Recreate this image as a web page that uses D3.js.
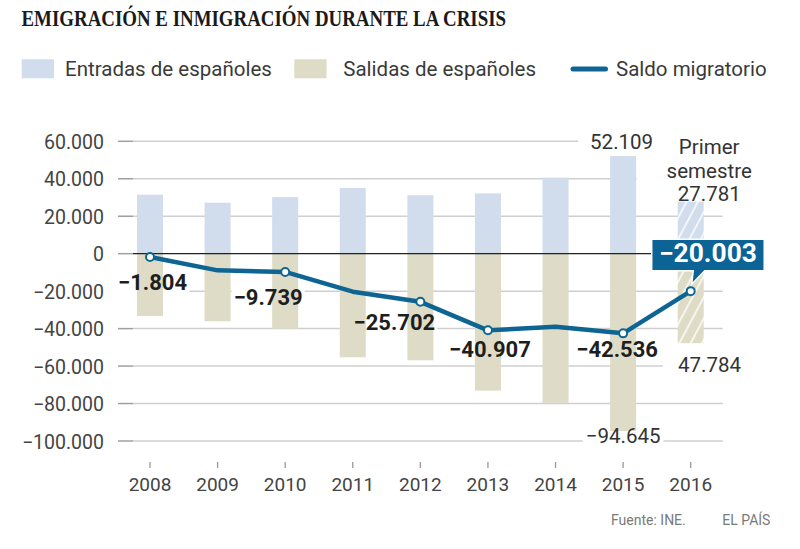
<!DOCTYPE html>
<html><head><meta charset="utf-8">
<script src="https://cdn.jsdelivr.net/npm/d3@7"></script>
<style>body{margin:0;background:#fff} svg{display:block}</style>
</head><body><svg id="c" width="800" height="549"></svg>
<script>
// ---- data ----
const title = "EMIGRACIÓN E INMIGRACIÓN DURANTE LA CRISIS";
const years = ["2008","2009","2010","2011","2012","2013","2014","2015","2016"];
const entradas = [31500, 27200, 30200, 35100, 31200, 32200, 40600, 52109, 27781];
const salidas  = [-33300, -36100, -40000, -55300, -56900, -73100, -79600, -94645, -47784];
const saldo    = [-1804, -8900, -9739, -20300, -25702, -40907, -39000, -42536, -20003];
const yTicks = [60000, 40000, 20000, 0, -20000, -40000, -60000, -80000, -100000];
const seriesNames = ["Entradas de españoles", "Salidas de españoles", "Saldo migratorio"];
const labeledYears = ["2008","2010","2012","2013","2015","2016"];
const partialYear = "2016";
const partialNote = ["Primer", "semestre"];
const source = "Fuente: INE.";
const brand = "EL PAÍS";

// ---- styles ----
const C_ENT = "#d1dcec", C_SAL = "#dedcc6", C_LINE = "#0e6594", C_BOX = "#0b6396";
const F = "Roboto, 'Liberation Sans', sans-serif";

const loc = d3.formatLocale({decimal: ",", thousands: ".", grouping: [3], currency: ["", "€"], minus: "\u2212"});
const fmt = loc.format(",d");

const svg = d3.select("#c");

// scales
const x = d3.scaleBand().domain(years).range([116.2, 724.5]).paddingInner(0.615).paddingOuter(0.3075);
const xc = d => x(d) + x.bandwidth() / 2;
const y = d3.scaleLinear().domain([-100000, 60000]).range([441, 141.3]);

// pattern defs
const defs = svg.append("defs");
function hatch(id, color) {
  const p = defs.append("pattern").attr("id", id).attr("patternUnits", "userSpaceOnUse")
    .attr("width", 10).attr("height", 10).attr("patternTransform", "rotate(28)");
  p.append("rect").attr("width", 10).attr("height", 10).attr("fill", color);
  p.append("rect").attr("x", 0).attr("width", 1.8).attr("height", 10).attr("fill", "#fff").attr("opacity", 0.8);
}
hatch("hEnt", C_ENT); hatch("hSal", C_SAL);

// title
svg.append("text").attr("x", 21.5).attr("y", 25.5)
  .attr("font-family", "'Liberation Serif', 'DejaVu Serif', serif").attr("font-weight", "bold")
  .attr("font-size", 22.5).attr("fill", "#1a1a1a")
  .attr("textLength", 484.5).attr("lengthAdjust", "spacingAndGlyphs").text(title);

// legend
const lg = svg.append("g").attr("font-family", F).attr("font-size", 20.5).attr("fill", "#3a3a3a");
lg.append("rect").attr("x", 21.7).attr("y", 59.3).attr("width", 32.3).attr("height", 19).attr("fill", C_ENT);
lg.append("text").attr("x", 65).attr("y", 75.5).text(seriesNames[0]);
lg.append("rect").attr("x", 294.3).attr("y", 59.3).attr("width", 32.3).attr("height", 19).attr("fill", C_SAL);
lg.append("text").attr("x", 343.3).attr("y", 75.5).text(seriesNames[1]);
lg.append("line").attr("x1", 573).attr("x2", 605.5).attr("y1", 69).attr("y2", 69)
  .attr("stroke", C_LINE).attr("stroke-width", 5).attr("stroke-linecap", "round");
lg.append("text").attr("x", 616).attr("y", 75.5).text(seriesNames[2]);

// grid
const gridG = svg.append("g");
yTicks.forEach(t => {
  if (t !== 0) {
    gridG.append("line").attr("x1", 133).attr("x2", 722.7).attr("y1", y(t)).attr("y2", y(t))
      .attr("stroke", "#cfcfcf").attr("stroke-width", 1.5);
  }
  gridG.append("line").attr("x1", 118).attr("x2", 133).attr("y1", y(t)).attr("y2", y(t))
    .attr("stroke", "#a0a0a0").attr("stroke-width", 1.5);
});
// y axis labels
const yAxis = d3.axisLeft(y).tickValues(yTicks).tickFormat(fmt).tickSize(0).tickPadding(0);
const yg = svg.append("g").attr("transform", "translate(104,0)").call(yAxis);
yg.select(".domain").remove();
yg.selectAll("text").attr("font-family", F).attr("font-size", 19.5).attr("fill", "#444").attr("dy", "0.36em");

// halo layer (hides gridlines behind labels)
const haloG = svg.append("g");

// bars
const barsG = svg.append("g");
years.forEach((yr, i) => {
  const partial = yr === partialYear;
  barsG.append("rect").attr("x", x(yr)).attr("width", x.bandwidth())
    .attr("y", y(entradas[i])).attr("height", y(0) - y(entradas[i]))
    .attr("fill", partial ? "url(#hEnt)" : C_ENT);
  barsG.append("rect").attr("x", x(yr)).attr("width", x.bandwidth())
    .attr("y", y(0)).attr("height", y(salidas[i]) - y(0))
    .attr("fill", partial ? "url(#hSal)" : C_SAL);
});

// zero line
svg.append("line").attr("x1", 133).attr("x2", 660).attr("y1", y(0)).attr("y2", y(0))
  .attr("stroke", "#222").attr("stroke-width", 1.2);

// x axis
const xAxis = d3.axisBottom(x).tickSize(6).tickPadding(0);
const xg = svg.append("g").attr("transform", "translate(0,462)").call(xAxis);
xg.select(".domain").remove();
xg.selectAll(".tick line").attr("stroke", "#999").attr("stroke-width", 1.3);
xg.selectAll("text").attr("font-family", F).attr("font-size", 19).attr("fill", "#444")
  .attr("y", 29).attr("dy", 0);

const labelsG = svg.append("g");
function addLabel(txt, lx, ly, opt) {
  const t = labelsG.append("text").attr("x", lx).attr("y", ly)
    .attr("text-anchor", opt.anchor || "middle")
    .attr("font-family", F).attr("font-size", opt.size || 20.5)
    .attr("font-weight", opt.bold ? "bold" : "normal")
    .attr("fill", opt.color || "#333").text(txt);
  const b = t.node().getBBox();
  const px = opt.padX == null ? 4 : opt.padX, py = opt.padY == null ? 1 : opt.padY;
  haloG.append("rect").attr("x", b.x - px).attr("y", b.y - py)
    .attr("width", b.width + 2 * px).attr("height", b.height + 2 * py).attr("fill", "#fff");
  return t;
}

// value labels for totals
const i15 = years.indexOf("2015"), i16 = years.indexOf(partialYear);
addLabel(fmt(entradas[i15]), xc("2015") - 1.5, y(entradas[i15]) - 7, {padX: 12});
addLabel(fmt(salidas[i15]), xc("2015"), y(salidas[i15]) + 12, {padX: 3});
// partial year block
const bx = xc(partialYear) + 18.5;
addLabel(partialNote[0], bx, y(entradas[i16]) - 48, {padX: 30, padY: 4});
addLabel(partialNote[1], bx, y(entradas[i16]) - 24, {padX: 30, padY: 4});
addLabel(fmt(entradas[i16]), bx, y(entradas[i16]) - 0.5, {padX: 30, padY: 4});
addLabel(fmt(-salidas[i16]), xc(partialYear) - 12.7, y(salidas[i16]) + 29, {anchor: "start", padX: 15});

// line
const lineGen = d3.line().x((d, i) => xc(years[i])).y(d => y(d));
svg.append("path").datum(saldo).attr("d", lineGen).attr("fill", "none")
  .attr("stroke", C_LINE).attr("stroke-width", 4.5).attr("stroke-linejoin", "round");
svg.append("g").selectAll("circle").data(labeledYears).join("circle")
  .attr("cx", d => xc(d)).attr("cy", d => y(saldo[years.indexOf(d)]))
  .attr("r", 4).attr("fill", "#fff").attr("stroke", C_LINE).attr("stroke-width", 2);

// saldo labels (bold)
const saldoLabelOffsets = {"2008": [-32, 33, "start"], "2010": [-17, 33, "middle"], "2012": [-26, 28, "middle"],
  "2013": [2, 27, "middle"], "2015": [-6, 24, "middle"]};
Object.keys(saldoLabelOffsets).forEach(yr => {
  const [dx, dy, anc] = saldoLabelOffsets[yr];
  const i = years.indexOf(yr);
  addLabel(fmt(saldo[i]), xc(yr) + dx, y(saldo[i]) + dy, {bold: true, size: 22, color: "#1e1e1e", anchor: anc, padX: 2});
});

// highlighted box for partial year
const px16 = xc(partialYear), py16 = y(saldo[i16]);
const boxL = px16 - 39, boxR = px16 + 73.5, boxT = py16 - 52, boxB = py16 - 20.5;
svg.append("path")
  .attr("d", `M${boxL},${boxT}H${boxR}V${boxB}H${px16 + 14}L${px16 + 1},${py16 - 7}L${px16 + 2.5},${boxB}H${boxL}Z`)
  .attr("fill", C_BOX).attr("stroke", "#fff").attr("stroke-width", 1.5);
svg.append("text").attr("x", (boxL + boxR) / 2).attr("y", boxB - 8.5).attr("text-anchor", "middle")
  .attr("font-family", F).attr("font-weight", "bold").attr("font-size", 25).attr("fill", "#fff")
  .attr("textLength", 98).attr("lengthAdjust", "spacingAndGlyphs")
  .text(fmt(saldo[i16]));

// footer
svg.append("text").attr("x", 611).attr("y", 525).attr("font-family", F).attr("font-size", 14)
  .attr("fill", "#7a7a7a").text(source);
svg.append("text").attr("x", 722.3).attr("y", 525).attr("font-family", F).attr("font-size", 14)
  .attr("fill", "#7a7a7a").text(brand);
</script></body></html>
